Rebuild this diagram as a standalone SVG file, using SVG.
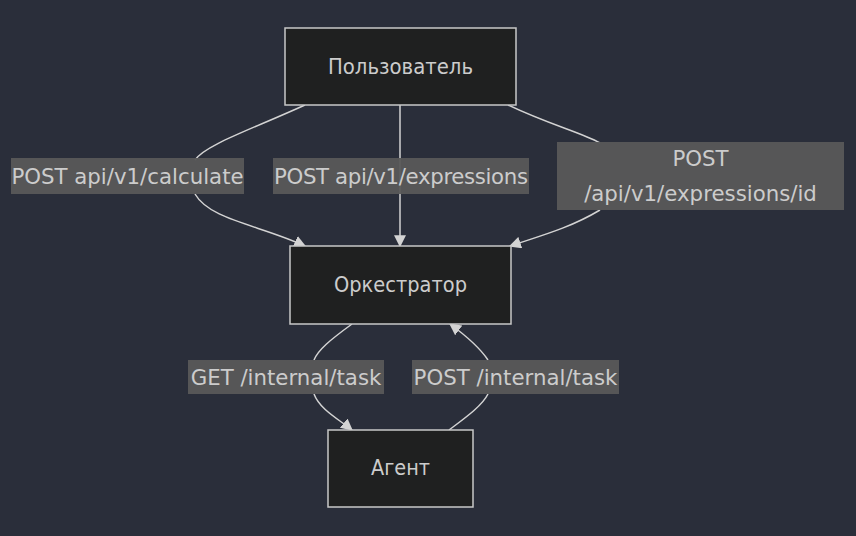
<svg xmlns="http://www.w3.org/2000/svg" width="856" height="536" viewBox="0 0 856 536">
<style>
.bg{fill:#2a2e3a}
.node rect{fill:#1f2020;stroke:#c8c8c8;stroke-width:1.5}
text{font-family:"DejaVu Sans",Verdana,sans-serif;font-size:21.3px;fill:#cccccc;text-anchor:middle;dominant-baseline:central}
.node text{font-size:20.6px}
.edge{fill:none;stroke:#d3d3d3;stroke-width:1.5}
.lbl rect{fill:#585858;opacity:0.95}
</style>
<defs>
<marker id="arr" viewBox="0 0 10 10" refX="9" refY="5" markerWidth="12" markerHeight="12" markerUnits="userSpaceOnUse" orient="auto">
<path d="M0,0 L10,5 L0,10 z" fill="#d3d3d3"/>
</marker>
</defs>
<rect class="bg" x="0" y="0" width="856" height="536"/>
<g id="connectors">
<path class="edge" d="M305,105 C250,130 205,145 195,160"/>
<path class="edge" d="M195,194 C210,220 260,225 305,246" marker-end="url(#arr)"/>
<path class="edge" d="M400,105 L400,246" marker-end="url(#arr)"/>
<path class="edge" d="M508,105 C550,125 580,132 600,143"/>
<path class="edge" d="M600,210 C570,228 540,236 510,246" marker-end="url(#arr)"/>
<path class="edge" d="M352,324 C330,340 318,350 314,360"/>
<path class="edge" d="M314,394 C320,410 340,420 352,430" marker-end="url(#arr)"/>
<path class="edge" d="M449,430 C465,418 482,406 488,394"/>
<path class="edge" d="M488,360 C480,348 465,335 450,324" marker-end="url(#arr)"/>
</g>
<g id="labels">
<g class="lbl" id="lbl-calc"><rect x="11" y="158" width="233" height="36"/><text x="127.5" y="176">POST api/v1/calculate</text></g>
<g class="lbl" id="lbl-expr"><rect x="273" y="158" width="256" height="36"/><text x="401" y="176" textLength="254" lengthAdjust="spacing">POST api/v1/expressions</text></g>
<g class="lbl" id="lbl-exprid"><rect x="557" y="142" width="287" height="68"/><text x="700.5" y="158">POST</text><text x="700.5" y="193">/api/v1/expressions/id</text></g>
<g class="lbl" id="lbl-get"><rect x="188" y="360" width="196" height="34"/><text x="286" y="377">GET /internal/task</text></g>
<g class="lbl" id="lbl-post"><rect x="412" y="360" width="207" height="34"/><text x="515.5" y="377">POST /internal/task</text></g>
</g>
<g class="node" id="user"><rect x="285" y="28" width="231" height="77"/><text x="400.5" y="67" textLength="145" lengthAdjust="spacingAndGlyphs">Пользователь</text></g>
<g class="node" id="orch"><rect x="290" y="246" width="221" height="78"/><text x="400.5" y="285" textLength="133" lengthAdjust="spacingAndGlyphs">Оркестратор</text></g>
<g class="node" id="agent"><rect x="328" y="430" width="145" height="77"/><text x="400.5" y="468" textLength="59" lengthAdjust="spacingAndGlyphs">Агент</text></g>
</svg>
